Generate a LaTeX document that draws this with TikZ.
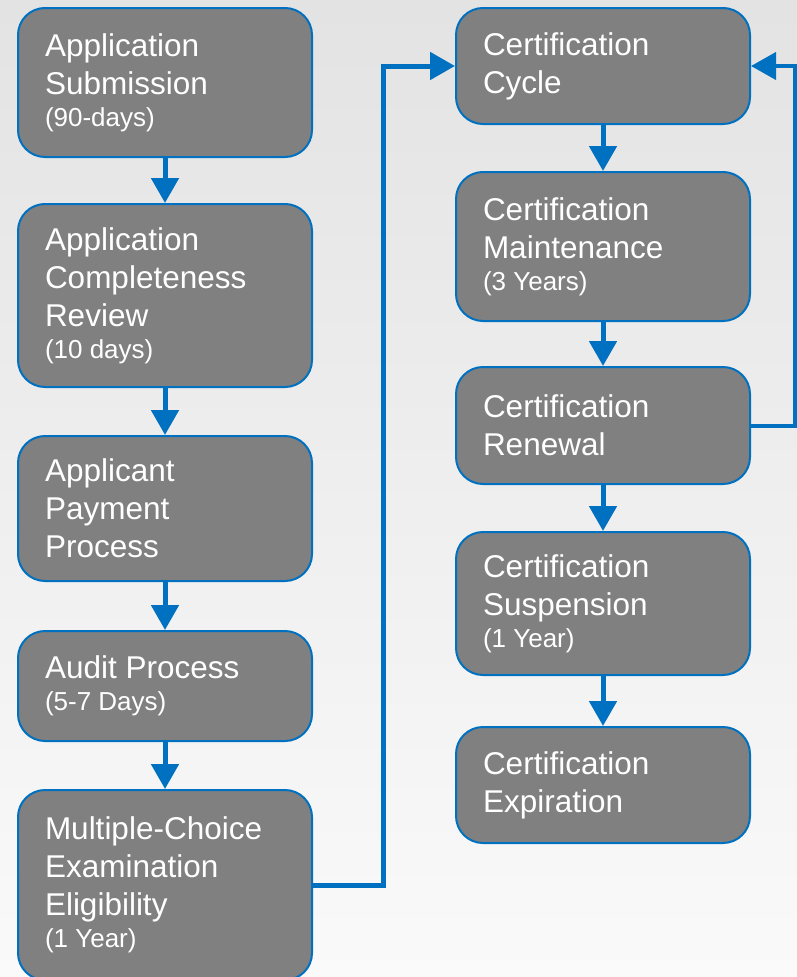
\documentclass[tikz,border=0pt]{standalone}
\usepackage{fontspec}
\setmainfont{Liberation Sans}
\usetikzlibrary{arrows.meta,calc}
\definecolor{flowblue}{RGB}{0,112,192}
\definecolor{boxgray}{RGB}{128,128,128}
\tikzset{
  stage/.style={draw=flowblue, line width=2pt, fill=boxgray, rounded corners=27pt,
    text=white, align=flush left, text width=240pt, inner xsep=27pt, inner ysep=0pt,
    minimum width=294pt, font=\fontsize{31.5}{38}\selectfont},
  link/.style={draw=flowblue, line width=5pt, -{Triangle[length=25pt,width=27pt]}}
}
\newcommand\dur[1]{\\[-6pt]{\fontsize{26}{38}\selectfont #1}}

\begin{document}
\begin{tikzpicture}[x=1pt,y=-1pt]
  \def\l{165}
  \def\r{603}
  \fill[top color=gray!22, bottom color=gray!4] (0,0) rectangle (797,977);
  \useasboundingbox (0,0) rectangle (797,977);
  \node[stage, minimum height=149pt](sub) at (\l,82.5) {Application\\Submission\dur{(90-days)}};
  \node[stage, minimum height=183pt](rev) at (\l,295.5) {Application\\Completeness\\Review\dur{(10 days)}};
  \node[stage, minimum height=145pt](pay) at (\l,508.5) {Applicant\\Payment\\Process};
  \node[stage, minimum height=110pt](aud) at (\l,686) {Audit Process\dur{(5-7 Days)}};
  \node[stage, minimum height=190pt](exam) at (\l,885) {Multiple-Choice\\Examination\\Eligibility\dur{(1 Year)}};
  \node[stage, minimum height=116pt](cyc) at (\r,66) {Certification\\Cycle};
  \node[stage, minimum height=149pt](mnt) at (\r,246.5) {Certification\\Maintenance\dur{(3 Years)}};
  \node[stage, minimum height=117pt](ren) at (\r,425.5) {Certification\\Renewal};
  \node[stage, minimum height=143pt](sus) at (\r,603.5) {Certification\\Suspension\dur{(1 Year)}};
  \node[stage, minimum height=116pt](exp) at (\r,785) {Certification\\Expiration};
  \coordinate(bend) at (383,66);
  \coordinate(loop) at (795,66);
  \draw[link](sub)--(rev);
  \draw[link](rev)--(pay);
  \draw[link](pay)--(aud);
  \draw[link](aud)--(exam);
  \draw[link](cyc)--(mnt);
  \draw[link](mnt)--(ren);
  \draw[link](ren)--(sus);
  \draw[link](sus)--(exp);
  \draw[link](exam.east)-|(bend)--(cyc.west);
  \draw[link, line width=4pt](ren.east)-|(loop)--(cyc.east);
\end{tikzpicture}
\end{document}
